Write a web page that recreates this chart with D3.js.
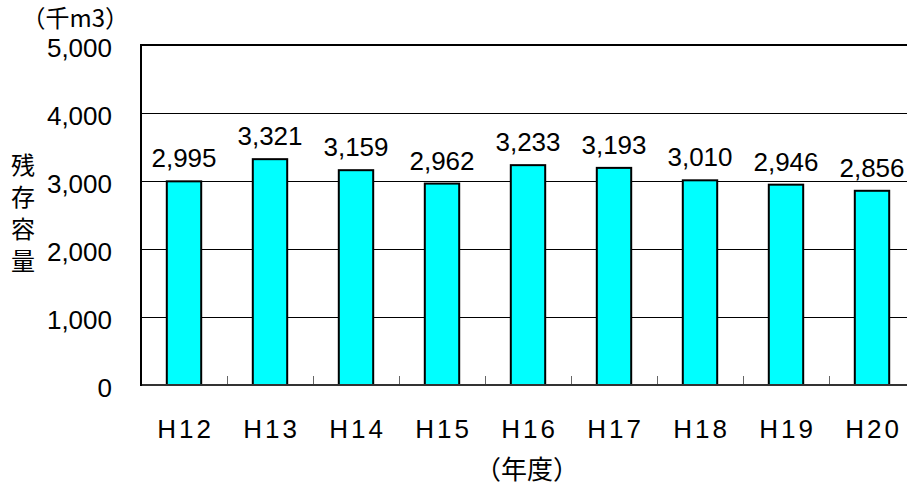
<!DOCTYPE html>
<html lang="ja">
<head>
  <meta charset="UTF-8" />
  <title>残存容量</title>
  <script src="https://d3js.org/d3.v7.min.js"></script>
  <style>
    body { margin: 0; background: #fff; }
    svg { display: block; }
    .num { font-family: 'Liberation Sans', Arial, sans-serif; font-size: 26px; fill: #000; }
    .jp { font-family: 'Noto Sans CJK JP', sans-serif; fill: #000; }
  </style>
</head>
<body>
  <svg width="907" height="487"></svg>
  <script>
    // data
    const years = ["H12", "H13", "H14", "H15", "H16", "H17", "H18", "H19", "H20"];
    const volumes = [2995, 3321, 3159, 2962, 3233, 3193, 3010, 2946, 2856];
    const yTicks = [0, 1000, 2000, 3000, 4000, 5000];

    const svg = d3.select("svg");
    const plotL = 141, plotR = 915, plotT = 45, plotB = 385;

    const x = d3.scaleBand().domain(years).range([plotL, plotR])
      .paddingInner(0.6).paddingOuter(0.3);
    const xStep = d3.scaleBand().domain(years).range([plotL, plotR]);
    const y = d3.scaleLinear().domain([0, 5000]).range([plotB, plotT]);
    const fmt = d3.format(",");

    // gridlines (half-pixel offset so 1px lines stay crisp)
    svg.append("g").selectAll("line")
      .data(yTicks.slice(1, -1))
      .join("line")
      .attr("x1", plotL).attr("x2", plotR)
      .attr("y1", d => Math.round(y(d)) + 0.5).attr("y2", d => Math.round(y(d)) + 0.5)
      .attr("stroke", "#000").attr("stroke-width", 1);

    // top border
    svg.append("line")
      .attr("x1", plotL).attr("x2", plotR)
      .attr("y1", y(5000)).attr("y2", y(5000))
      .attr("stroke", "#000").attr("stroke-width", 2);

    // bars
    svg.append("g").selectAll("rect")
      .data(years)
      .join("rect")
      .attr("x", d => x(d))
      .attr("y", (d, i) => y(volumes[i]))
      .attr("width", x.bandwidth())
      .attr("height", (d, i) => y(0) - y(volumes[i]))
      .attr("fill", "#00ffff")
      .attr("stroke", "#000")
      .attr("stroke-width", 2);

    // value labels
    svg.append("g").selectAll("text")
      .data(years)
      .join("text")
      .attr("class", "num")
      .attr("x", d => x(d) + x.bandwidth() / 2)
      .attr("y", (d, i) => y(volumes[i]) - 14)
      .attr("text-anchor", "middle")
      .text((d, i) => fmt(volumes[i]));

    // category tick marks
    svg.append("g").selectAll("line")
      .data(years.slice(1))
      .join("line")
      .attr("x1", d => Math.round(xStep(d)) + 0.5).attr("x2", d => Math.round(xStep(d)) + 0.5)
      .attr("y1", plotB - 9).attr("y2", plotB)
      .attr("stroke", "#666").attr("stroke-width", 1);

    // axes lines
    svg.append("line")
      .attr("x1", plotL).attr("x2", plotR)
      .attr("y1", plotB).attr("y2", plotB)
      .attr("stroke", "#333").attr("stroke-width", 2);
    svg.append("line")
      .attr("x1", plotL).attr("x2", plotL)
      .attr("y1", plotT - 1).attr("y2", plotB + 1)
      .attr("stroke", "#000").attr("stroke-width", 2);

    // y tick labels
    svg.append("g").selectAll("text")
      .data(yTicks)
      .join("text")
      .attr("class", "num")
      .attr("x", 112)
      .attr("y", d => y(d) + 12)
      .attr("text-anchor", "end")
      .text(d => fmt(d));

    // x labels
    svg.append("g").selectAll("text")
      .data(years)
      .join("text")
      .attr("class", "num")
      .attr("x", d => x(d) + x.bandwidth() / 2 + 1.5)
      .attr("y", 438)
      .attr("text-anchor", "middle")
      .attr("letter-spacing", "3px")
      .text(d => d);

    // unit
    svg.append("text")
      .attr("class", "jp")
      .attr("x", 129).attr("y", 27)
      .attr("text-anchor", "end")
      .attr("font-size", 24)
      .text("（千m3）");

    // y title, stacked vertically
    svg.append("g").selectAll("text")
      .data(["残", "存", "容", "量"])
      .join("text")
      .attr("class", "jp")
      .attr("x", 23)
      .attr("y", (d, i) => 174 + i * 32)
      .attr("text-anchor", "middle")
      .attr("font-size", 24)
      .text(d => d);

    // x title
    svg.append("text")
      .attr("class", "jp")
      .attr("x", 527).attr("y", 479)
      .attr("text-anchor", "middle")
      .attr("font-size", 26)
      .text("（年度）");
  </script>
</body>
</html>
